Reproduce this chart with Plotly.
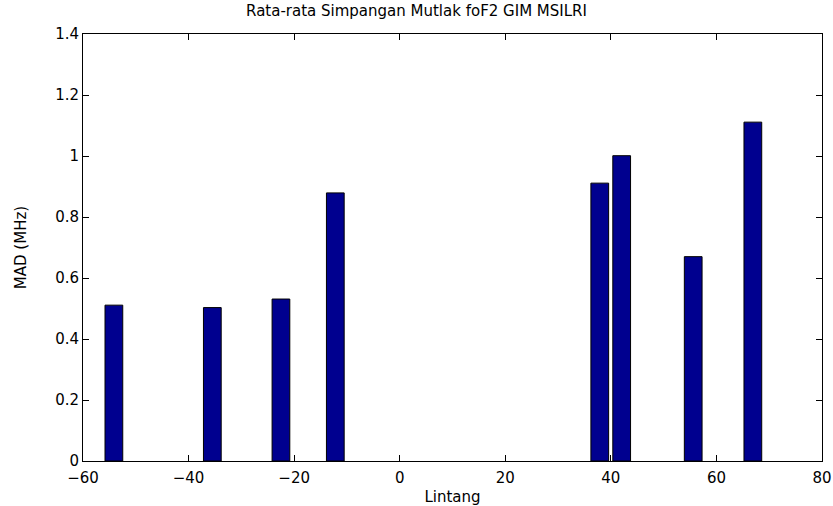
import plotly.graph_objects as go

lintang = [-54.15, -35.5, -22.5, -12.2, 37.9, 42.05, 55.6, 66.9]
mad = [0.511, 0.503, 0.531, 0.879, 0.911, 1.001, 0.670, 1.111]
x_ticks = [-60, -40, -20, 0, 20, 40, 60, 80]
y_ticks = [0, 0.2, 0.4, 0.6, 0.8, 1.0, 1.2, 1.4]
y_tick_text = ["0", "0.2", "0.4", "0.6", "0.8", "1", "1.2", "1.4"]

fig = go.Figure()
fig.add_trace(go.Bar(
    x=lintang, y=mad, width=3.36,
    marker=dict(color="#00008F", line=dict(color="black", width=1)),
))

font = dict(family="DejaVu Sans, Verdana, sans-serif", size=15, color="black")
fig.update_layout(
    width=833, height=506,
    margin=dict(l=83, r=11, t=34, b=45, autoexpand=False),
    paper_bgcolor="white", plot_bgcolor="white",
    showlegend=False,
    font=font,
    title=dict(text="Rata-rata Simpangan Mutlak foF2 GIM MSILRI",
               x=0.5, xanchor="center", y=0.99, yanchor="top",
               font=dict(size=15)),
    xaxis=dict(range=[-60, 80], tickvals=x_ticks, ticks="inside", ticklen=6,
               showline=True, linecolor="black", linewidth=1, mirror="ticks",
               showgrid=False, zeroline=False, tickcolor="black",
               tickfont=dict(size=15), automargin=False, ticklabelstandoff=3,
               title=dict(text="Lintang", standoff=6, font=dict(size=15))),
    yaxis=dict(range=[0, 1.4], tickvals=y_ticks, ticktext=y_tick_text,
               ticks="inside", ticklen=6,
               showline=True, linecolor="black", linewidth=1, mirror="ticks",
               showgrid=False, zeroline=False, tickcolor="black",
               tickfont=dict(size=15), automargin=False,
               title=dict(text="MAD (MHz)", standoff=24, font=dict(size=15))),
)
fig.write_html("out.html")
